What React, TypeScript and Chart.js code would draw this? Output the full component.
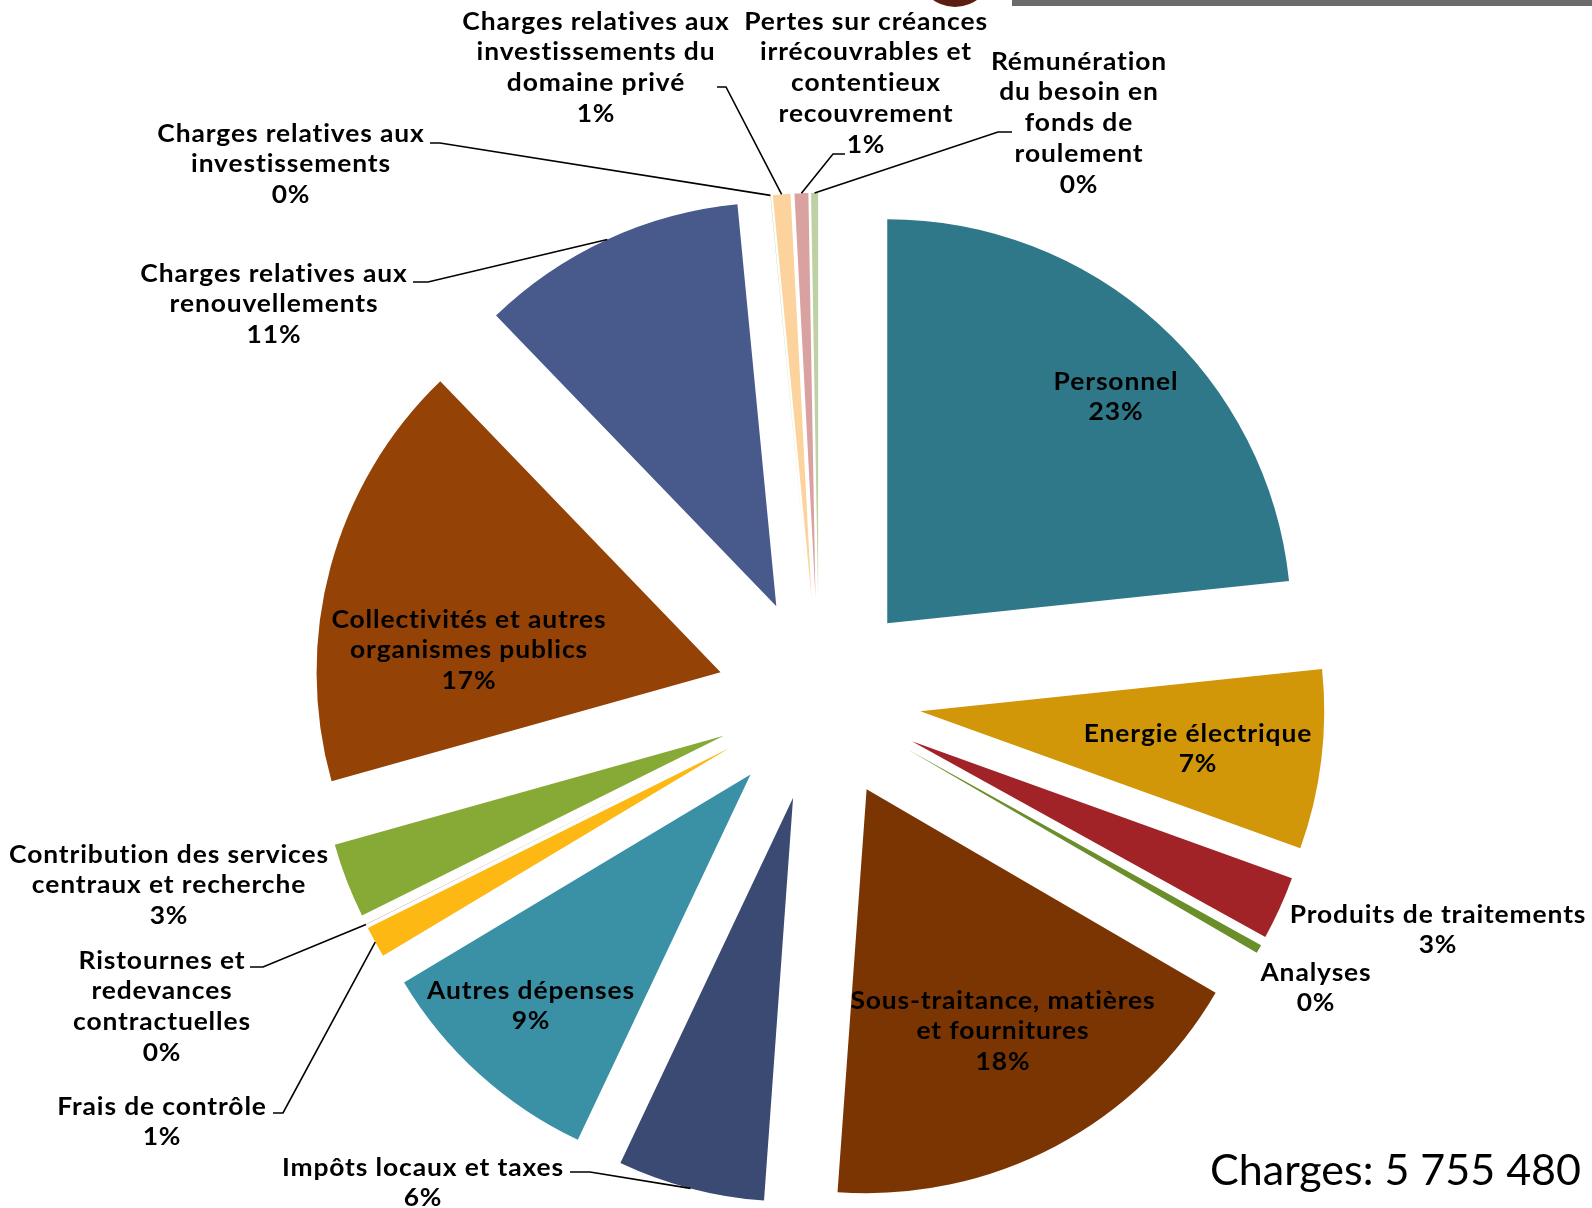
import React, { useEffect, useRef } from 'react';
import { Chart, registerables, ArcElement, PieController } from 'chart.js';

// ---------- DATA ----------
const categories = [
  'Personnel',
  'Energie électrique',
  'Produits de traitements',
  'Analyses',
  'Sous-traitance, matières et fournitures',
  'Impôts locaux et taxes',
  'Autres dépenses',
  'Frais de contrôle',
  'Ristournes et redevances contractuelles',
  'Contribution des services centraux et recherche',
  'Collectivités et autres organismes publics',
  'Charges relatives aux renouvellements',
  'Charges relatives aux investissements',
  'Charges relatives aux investissements du domaine privé',
  'Pertes sur créances irrécouvrables et contentieux recouvrement',
  'Rémunération du besoin en fonds de roulement',
];

// share of total charges, in %
const shares = [23.4, 7.2, 2.55, 0.35, 17.8, 5.9, 9.4, 1.25, 0.01, 3.0, 17.2, 10.7, 0.01, 0.7, 0.55, 0.28];

const totalCharges = 5755480;
const totalPrefix = 'Charges:';

// ---------- STYLE / LAYOUT ----------
const sliceColors = [
  '#2E7889', '#D29708', '#A12227', '#6A8E29', '#7A3503', '#3A4A73', '#3A91A6', '#FDB813',
  '#C0504D', '#86AA35', '#944205', '#485A8C', '#9BBB59', '#FCD39C', '#D9A2A1', '#BFD0A3',
];

// words per wrapped line for each label
const labelWrap = [
  [1], [2], [3], [1], [2, 2], [4], [2], [3], [2, 1, 1], [3, 3], [3, 2], [3, 1], [3, 1], [3, 2, 2], [3, 2, 1, 1], [1, 3, 2, 1],
];

type Lay = { x: number; y: number; lead?: number[][] };
const labelLayout: Lay[] = [
  { x: 1116, y: 382 },
  { x: 1198, y: 734 },
  { x: 1438, y: 915 },
  { x: 1316, y: 973 },
  { x: 1003, y: 1001 },
  { x: 423, y: 1168, lead: [[570, 1172], [590, 1172]] },
  { x: 531, y: 991 },
  { x: 162, y: 1107, lead: [[273, 1113], [283, 1113]] },
  { x: 162, y: 961, lead: [[250, 967], [263, 967]] },
  { x: 169, y: 855 },
  { x: 469, y: 620 },
  { x: 274, y: 274, lead: [[413, 282], [428, 282]] },
  { x: 291, y: 134, lead: [[430, 143], [440, 143]] },
  { x: 596, y: 22, lead: [[717, 87], [726, 87]] },
  { x: 866, y: 22, lead: [[845, 154], [833, 154]] },
  { x: 1079, y: 62, lead: [[1012, 132], [998, 132]] },
];

const W = 1592;
const H = 1208;
const CX = 819;
const CY = 699;
const RADIUS = 404;
const EXPLODE = 102;
const FONT = 'Lato, "Open Sans", sans-serif';
const LABEL_SIZE = 24;
const LABEL_STRETCH = 1.1;
const LABEL_SPACING = 0.8;
const LINE_H = 30.7;

// Arc translated along its bisector by `offset` pixels, keeping full radius and angle
class ExplodedArc extends ArcElement {
  static id = 'explodedArc';
  draw(ctx: CanvasRenderingContext2D) {
    const self: any = this;
    const o = self.options;
    const off = o.offset || 0;
    const mid = (self.startAngle + self.endAngle) / 2;
    ctx.save();
    ctx.translate(Math.cos(mid) * off, Math.sin(mid) * off);
    self.options = Object.assign({}, o, { offset: 0 });
    super.draw(ctx);
    self.options = o;
    ctx.restore();
  }
}
class ExplodedPie extends PieController {
  static id = 'explodedPie';
  static defaults = { dataElementType: 'explodedArc' };
}
Chart.register(...registerables, ExplodedArc as any, ExplodedPie as any);

function fmtTotal(n: number) {
  return String(n).replace(/\B(?=(\d{3})+(?!\d))/g, ' ');
}

const labelsPlugin = {
  id: 'pieLabels',
  afterDatasetsDraw(chart: any) {
    const ctx: any = chart.ctx;
    const meta = chart.getDatasetMeta(0);
    const total = shares.reduce((a, b) => a + b, 0);
    ctx.save();
    meta.data.forEach((arc: any, i: number) => {
      const { x, y, startAngle, endAngle, outerRadius } = arc.getProps(
        ['x', 'y', 'startAngle', 'endAngle', 'outerRadius'],
        true
      );
      const off = arc.options.offset || 0;
      const mid = (startAngle + endAngle) / 2;
      const lay = labelLayout[i];
      if (lay.lead) {
        const px = x + Math.cos(mid) * (off + outerRadius);
        const py = y + Math.sin(mid) * (off + outerRadius);
        ctx.beginPath();
        ctx.moveTo(lay.lead[0][0], lay.lead[0][1]);
        ctx.lineTo(lay.lead[1][0], lay.lead[1][1]);
        ctx.lineTo(px, py);
        ctx.strokeStyle = '#000';
        ctx.lineWidth = 1.6;
        ctx.stroke();
      }
      const words = categories[i].split(' ');
      let k = 0;
      const lines = labelWrap[i].map((n) => {
        const s = words.slice(k, k + n).join(' ');
        k += n;
        return s;
      });
      lines.push(Math.round((shares[i] / total) * 100) + '%');
      ctx.font = `bold ${LABEL_SIZE}px ${FONT}`;
      ctx.letterSpacing = `${LABEL_SPACING}px`;
      ctx.fillStyle = '#000';
      ctx.textAlign = 'center';
      ctx.textBaseline = 'middle';
      lines.forEach((t, j) => {
        ctx.save();
        ctx.translate(lay.x, lay.y + j * LINE_H);
        ctx.scale(LABEL_STRETCH, 1);
        ctx.fillText(t, 0, 0);
        ctx.restore();
      });
    });
    ctx.letterSpacing = '0px';
    ctx.font = `43px ${FONT}`;
    ctx.textAlign = 'right';
    ctx.textBaseline = 'alphabetic';
    ctx.fillStyle = '#000';
    ctx.fillText(`${totalPrefix} ${fmtTotal(totalCharges)}`, 1581, 1185);
    ctx.restore();
  },
};

export default function App() {
  const ref = useRef<HTMLCanvasElement | null>(null);
  useEffect(() => {
    if (!ref.current) return;
    const chart = new Chart(ref.current, {
      type: 'explodedPie' as any,
      data: {
        labels: categories,
        datasets: [
          {
            data: shares,
            backgroundColor: sliceColors,
            borderWidth: 0,
            offset: EXPLODE,
            radius: RADIUS,
          } as any,
        ],
      },
      options: {
        animation: false,
        responsive: false,
        maintainAspectRatio: false,
        events: [],
        layout: {
          padding: { left: 2 * CX - W, right: 0, top: 2 * CY - H, bottom: 0 },
        },
        plugins: { legend: { display: false }, tooltip: { enabled: false } },
      } as any,
      plugins: [labelsPlugin],
    });
    return () => chart.destroy();
  }, []);
  return (
    <div style={{ position: 'absolute', left: 0, top: 0, width: W, height: H, overflow: 'hidden', background: '#fff' }}>
      <div style={{ position: 'absolute', left: 917, top: -69, width: 76, height: 76, borderRadius: '50%', background: '#5B1E10' }} />
      <div style={{ position: 'absolute', left: 1012, top: 0, width: W - 1012, height: 6, background: '#6B6B6B' }} />
      <canvas ref={ref} width={W} height={H} style={{ position: 'absolute', left: 0, top: 0, width: W, height: H }} />
    </div>
  );
}
